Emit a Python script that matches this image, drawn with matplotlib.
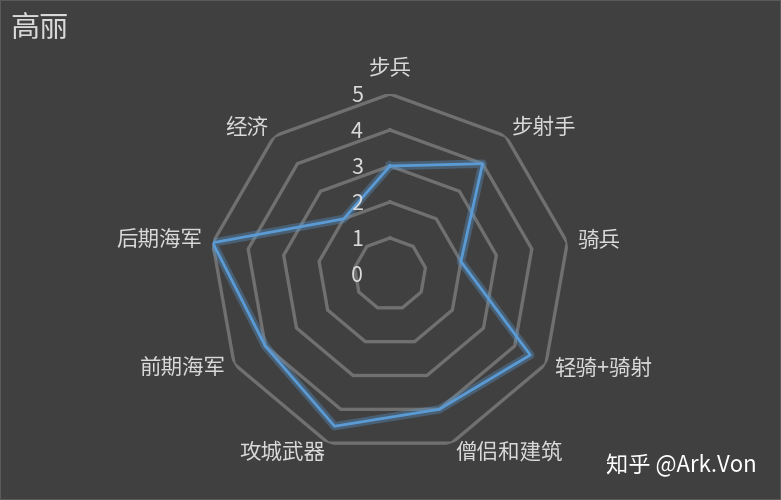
import numpy as np
import matplotlib
matplotlib.use("Agg")
import matplotlib.pyplot as plt
from matplotlib.transforms import offset_copy
import matplotlib.patheffects as pe

plt.rcParams['font.family'] = ['Noto Sans CJK SC', 'DejaVu Sans']

categories = ["步兵", "步射手", "骑兵", "轻骑+骑射", "僧侣和建筑", "攻城武器", "前期海军", "后期海军", "经济"]
values = [3, 4, 2, 4.5, 4, 4.5, 4, 5, 2]
levels = [1, 2, 3, 4, 5]
tick_labels = ["0", "1", "2", "3", "4", "5"]
title = "高丽"
watermark = "知乎 @Ark.Von"

bg = "#404040"
txt = "#d9d9d9"

fig = plt.figure(figsize=(7.81, 5.0), dpi=100, facecolor=bg)
ax = fig.add_axes([(390 - 180) / 781, (500 - 274 - 180) / 500, 360 / 781, 360 / 500], projection="polar")
ax.set_facecolor("none")
ax.set_theta_offset(np.pi / 2)
ax.set_theta_direction(-1)
ax.set_ylim(0, 5)
ax.grid(False)
ax.spines["polar"].set_visible(False)
ax.set_xticks([]); ax.set_yticks([])

n = len(categories)
theta = np.linspace(0, 2 * np.pi, n, endpoint=False)
theta_c = np.append(theta, theta[0])

for lv in levels:
    ax.plot(theta_c, [lv] * (n + 1), color="#707070", lw=2.4, solid_joinstyle="miter", zorder=1)

vals = np.append(values, values[0])
ax.plot(theta_c, vals, color="#5b9bd5", lw=2.0, zorder=3,
        path_effects=[pe.Stroke(linewidth=6, foreground="#5b9bd5", alpha=0.35), pe.Normal()])

# category labels
for t, name in zip(theta, categories):
    deg = np.degrees(t)
    if deg < 1:
        ax.text(t, 5.28, name, ha="center", va="bottom", color=txt, fontsize=15.5,
                transform=offset_copy(ax.transData, fig=fig, x=0, y=4, units="dots"))
    else:
        ha = "left" if deg < 180 else "right"
        ax.text(t, 5.28, name, ha=ha, va="center", color=txt, fontsize=15.5)

# radial tick labels
tr = offset_copy(ax.transData, fig=fig, x=-33, y=-2, units="dots")
for i, lab in enumerate(tick_labels):
    ax.text(0, i, lab, ha="center", va="center", color=txt, fontsize=15.5, transform=tr)

fig.text(10 / 781, 1 - 29 / 500, title, ha="left", va="center", color=txt, fontsize=21)
fig.text(757 / 781, 1 - 466 / 500, watermark, ha="right", va="center", color="white", fontsize=16)

fig.patches.append(plt.Rectangle((0, 0), 1, 1, transform=fig.transFigure, fill=False,
                                 edgecolor="#5a5a5a", lw=1.5))

fig.savefig("out.png", dpi=100, facecolor=bg)
